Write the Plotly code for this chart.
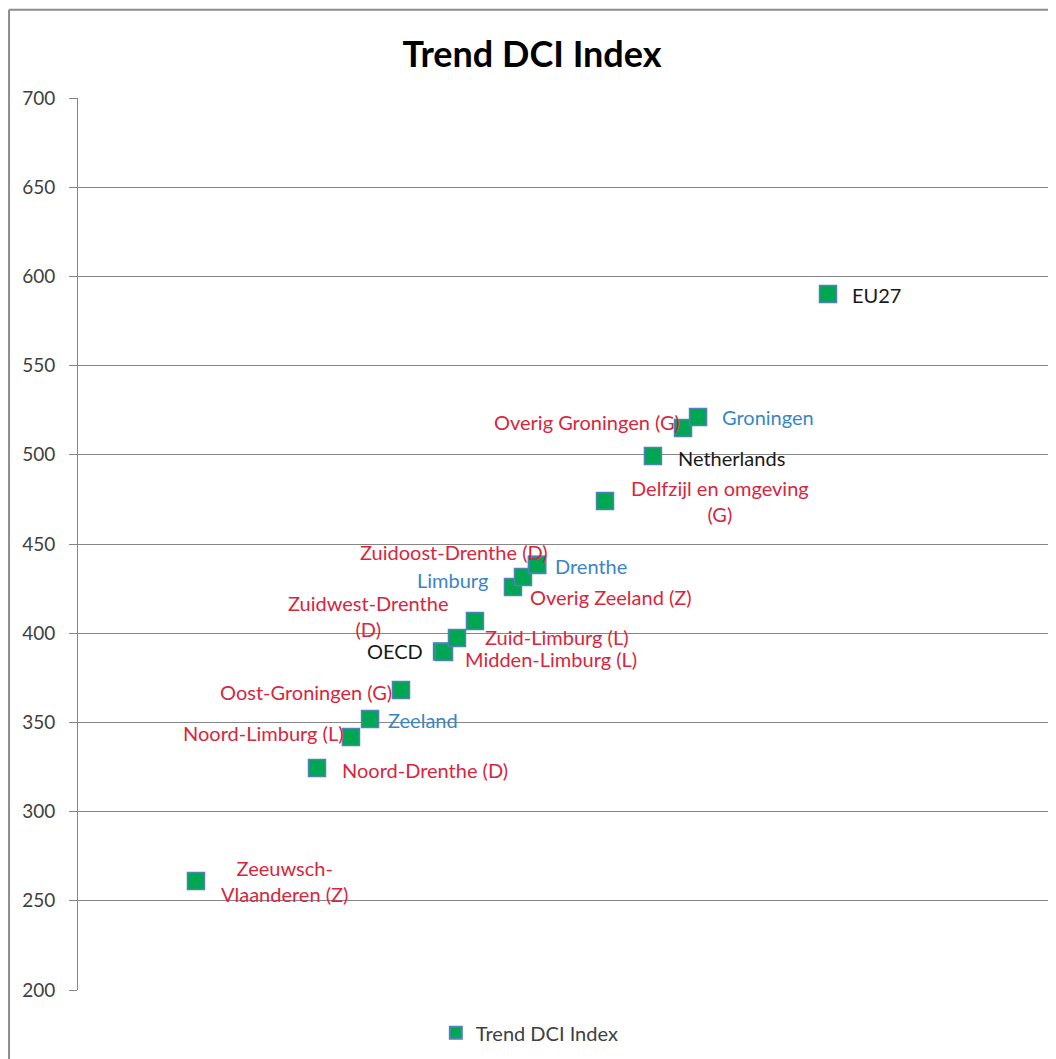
import plotly.graph_objects as go

# ---- data ----
names = ["Zeeuwsch-<br>Vlaanderen (Z)", "Noord-Drenthe (D)", "Noord-Limburg (L)", "Zeeland",
         "Oost-Groningen (G)", "OECD", "Midden-Limburg (L)", "Zuid-Limburg (L)",
         "Zuidwest-Drenthe<br>(D)", "Limburg", "Overig Zeeland (Z)", "Drenthe",
         "Zuidoost-Drenthe (D)", "Delfzijl en omgeving<br>(G)", "Netherlands",
         "Overig Groningen (G)", "Groningen", "EU27"]
x_vals = [96.5, 195.5, 223.3, 238.9, 264.2, 297.8, 299.4, 310.0, 324.7, 355.8, 364.0,
          375.5, 375.5, 431.1, 470.3, 494.9, 507.2, 613.5]
y_vals = [261.1, 324.4, 341.8, 351.9, 368.2, 389.8, 389.4, 397.3, 406.8, 425.9, 431.5,
          438.2, 438.4, 474.1, 499.3, 515.0, 521.2, 590.1]
groups = ["region", "region", "region", "province", "region", "other", "region", "region",
          "region", "province", "region", "province", "region", "region", "other",
          "region", "province", "other"]
y_ticks = [200, 250, 300, 350, 400, 450, 500, 550, 600, 650, 700]

# ---- styling ----
group_color = {"region": "#D7263D", "province": "#3A85C6", "other": "#1A1A1A"}
# label placement: (xanchor, xshift px, yshift px, align)
label_pos = [("center", 89, 0, "center"), ("left", 23, -2, "left"), ("right", -5, 4, "right"),
             ("left", 16, -1, "left"), ("right", -7, -2, "right"), ("right", -17, 0, "right"),
             ("left", 19, -7, "left"), ("left", 26, 1, "left"), ("center", -107, 5, "center"),
             ("right", -23, 7, "right"), ("left", 5, -20, "left"), ("left", 16, -1, "left"),
             ("center", -83, 13, "center"), ("center", 115, 0, "center"), ("left", 23, -2, "left"),
             ("right", -1, 6, "right"), ("left", 22, 0, "left"), ("left", 22, -1, "left")]

FONT = "Lato, 'Open Sans', sans-serif"

fig = go.Figure()
fig.add_trace(go.Scatter(
    x=x_vals, y=y_vals, mode="markers", name="Trend DCI Index",
    marker=dict(symbol="square", size=17, color="#00A651",
                line=dict(color="#4F81BD", width=1.5)),
    showlegend=True,
))

annotations = []
for n, xv, yv, g, (xa, xs, ys, al) in zip(names, x_vals, y_vals, groups, label_pos):
    annotations.append(dict(
        x=xv, y=yv, xref="x", yref="y", text=n, showarrow=False,
        xanchor=xa, yanchor="middle", xshift=xs, yshift=ys, align=al,
        font=dict(family=FONT, size=20, color=group_color[g]),
    ))

fig.update_layout(
    width=1048, height=1051,
    margin=dict(l=70, r=0, t=90, b=69),
    paper_bgcolor="white", plot_bgcolor="white",
    title=dict(text="<b>Trend DCI Index</b>", x=0.5, xanchor="center", y=0.956, yanchor="middle",
               font=dict(family=FONT, size=36, color="#000000")),
    xaxis=dict(range=[0, 800], showgrid=False, showticklabels=False, zeroline=False,
               showline=False, ticks=""),
    yaxis=dict(range=[200, 700], tickvals=y_ticks, showgrid=True, gridcolor="#868686",
               gridwidth=1, zeroline=False, showline=True, linecolor="#868686", linewidth=1,
               ticks="outside", ticklen=8, tickcolor="#868686", ticklabelstandoff=10,
               tickfont=dict(family=FONT, size=19, color="#404040")),
    legend=dict(orientation="h", x=0.462, xanchor="center", y=-0.048, yanchor="middle",
                font=dict(family=FONT, size=20, color="#404040"), itemsizing="constant"),
    annotations=annotations,
    shapes=[
        dict(type="line", xref="paper", yref="paper", x0=-0.0705, x1=-0.0705, y0=-0.1, y1=1.099,
             line=dict(color="#8C8C8C", width=2)),
        dict(type="line", xref="paper", yref="paper", x0=-0.0705, x1=1.01, y0=1.099, y1=1.099,
             line=dict(color="#8C8C8C", width=2)),
    ],
)

fig.write_html("out.html")
